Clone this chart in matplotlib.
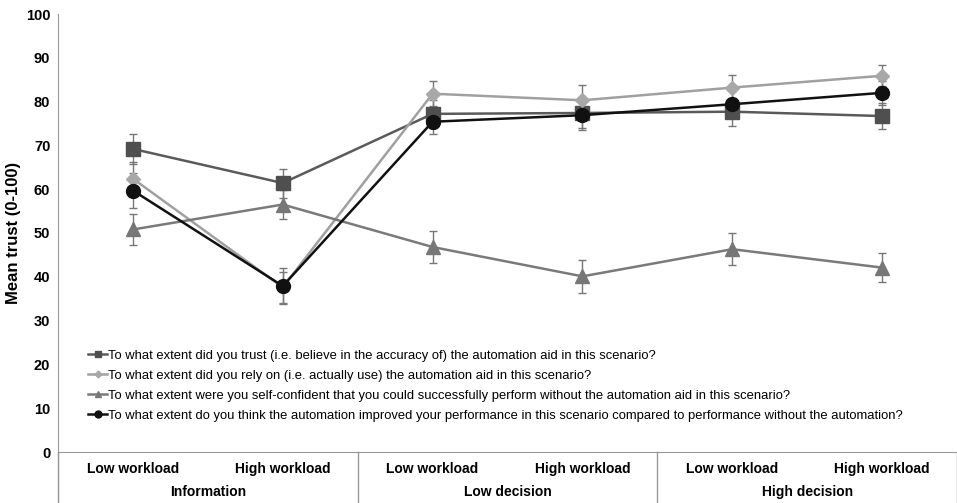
import matplotlib.pyplot as plt
from matplotlib.transforms import blended_transform_factory

plt.rcParams["font.family"] = ["Liberation Sans", "DejaVu Sans"]

conditions = ["Low workload", "High workload"] * 3
groups = ["Information", "Low decision", "High decision"]

trust = [69.2, 61.4, 77.2, 77.4, 77.7, 76.7]
trust_err = [3.4, 3.3, 3.2, 3.4, 3.2, 3.0]
rely = [62.4, 37.6, 81.8, 80.3, 83.2, 85.9]
rely_err = [3.8, 3.6, 2.9, 3.5, 2.8, 2.4]
confident = [50.8, 56.5, 46.8, 40.1, 46.3, 42.1]
confident_err = [3.6, 3.4, 3.6, 3.8, 3.7, 3.4]
improved = [59.7, 37.9, 75.4, 76.9, 79.4, 82.0]
improved_err = [4.0, 4.2, 2.9, 3.4, 3.1, 2.8]

labels = [
    "To what extent did you trust (i.e. believe in the accuracy of) the automation aid in this scenario?",
    "To what extent did you rely on (i.e. actually use) the automation aid in this scenario?",
    "To what extent were you self-confident that you could successfully perform without the automation aid in this scenario?",
    "To what extent do you think the automation improved your performance in this scenario compared to performance without the automation?",
]

fig = plt.figure(figsize=(9.57, 5.03), dpi=100)
ax = fig.add_axes([58 / 957, 1 - 452 / 503, 1 - 58 / 957, 438 / 503])

x = [i + 0.5 for i in range(6)]
series = [
    (trust, trust_err, "s", "#4f4f4f", "#5a5a5a", 10),
    (rely, rely_err, "D", "#a8a8a8", "#a0a0a0", 7),
    (confident, confident_err, "^", "#777777", "#7a7a7a", 10),
    (improved, improved_err, "o", "#111111", "#111111", 10),
]
handles = []
for (vals, err, mk, col, lcol, ms), lab in zip(series, labels):
    ax.errorbar(x, vals, yerr=err, fmt="none", ecolor="#777777",
                elinewidth=1, capsize=3, capthick=1, zorder=2)
    (h,) = ax.plot(x, vals, color=lcol, lw=1.8, marker=mk, ms=ms,
                   mfc=col, mec=col, label=lab, zorder=3)
    handles.append(h)

ax.set_xlim(0, 6)
ax.set_ylim(0, 100)
ax.set_yticks(range(0, 101, 10))
ax.tick_params(axis="y", length=0, pad=5.5, labelsize=10.5)
for t in ax.get_yticklabels():
    t.set_fontweight("bold")
ax.set_xticks(x)
ax.set_xticklabels(conditions, fontsize=10, fontweight="bold")
ax.tick_params(axis="x", length=0, pad=7)
ax.set_ylabel("Mean trust (0-100)", fontsize=12, fontweight="bold")
ax.yaxis.set_label_coords(-0.041, 0.5)

for s in ["top", "right"]:
    ax.spines[s].set_visible(False)
ax.spines["left"].set_color("#999999")
ax.spines["bottom"].set_color("#999999")
ax.spines["left"].set_bounds(-12, 100)

# group separators and group names under the axis
tr = blended_transform_factory(ax.transData, ax.transAxes)
for xv in [0, 2, 4, 6]:
    ax.plot([xv, xv], [0, -0.12], color="#999999", lw=1, transform=tr, clip_on=False)
for i, g in enumerate(groups):
    ax.text(2 * i + 1, -0.092, g, transform=tr, ha="center", va="center",
            fontsize=10, fontweight="bold")

leg = ax.legend(handles=handles, loc="upper left", bbox_to_anchor=(0.028, 0.245),
                frameon=False, fontsize=9.4, markerscale=0.5, handlelength=1.4,
                handletextpad=0.1, labelspacing=0.6, borderaxespad=0)

fig.savefig("out.png", dpi=100)
